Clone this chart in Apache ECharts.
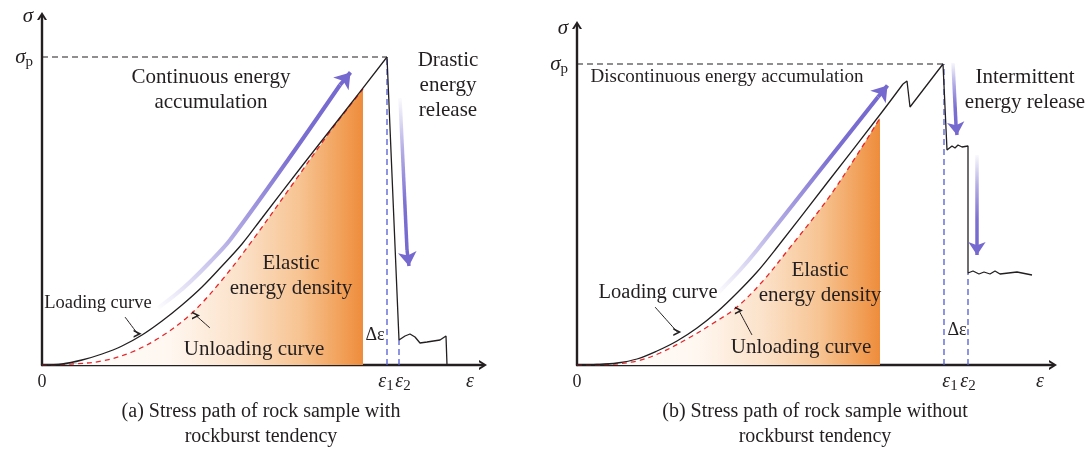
<!DOCTYPE html>
<html>
<head>
<meta charset="utf-8">
<title>Stress path of rock samples</title>
<script src="https://cdn.jsdelivr.net/npm/echarts@6.0.0/dist/echarts.min.js"></script>
<style>
  html, body { margin: 0; padding: 0; background: #fff; }
  #chart { width: 1089px; height: 451px; }
</style>
</head>
<body>
<div id="chart"></div>
<script>
// units: strain / stress measured from the origin of each panel (arbitrary scale)

// ---- (a) with rockburst tendency ----
const loadingA = [[0, 0], [20, 1], [40, 5], [60, 11], [80, 19], [100, 30], [120, 44], [140, 60], [160, 78], [180, 99], [200, 121], [220, 147], [260, 199], [300, 250], [345, 308]]
const unloadingA = [[0, 0], [30, 1], [60, 4], [90, 13], [120, 29], [150, 52], [180, 85], [210, 124], [250, 180], [290, 236], [321, 276]]
const afterPeakA = [[345, 308], [357, 25], [363, 29], [368, 31], [373, 28], [378, 22], [385, 23], [398, 25], [404, 29], [405, 0]]
const sigmaPA = 308
const eps1A = 345
const eps2A = 357
const eps2TopA = 25
const arrowUpA = [[116, 57], [133, 70], [148, 83], [168, 103], [188, 125], [248, 208], [298, 280]]
const arrowUpHeadA = [308.5, 292.6]
const arrowDownA = [[358, 267], [365, 115]]
const arrowDownHeadA = [367, 99]
const pointerLoadA = [[83, 48], [95.6, 31.2]]
const pointerUnloadA = [[168, 37], [154, 49.4]]
const xLabelPosA = [0, 344, 361, 428]
const yLabelPosA = [308, 349]
const notesA = ['Continuous energy\naccumulation', 'Drastic\nenergy\nrelease', 'Elastic\nenergy density', 'Loading curve', 'Unloading curve', 'Δε']
const notesAtA = [[169, 275], [406, 280], [249, 89], [56, 62], [212, 16], [333, 30]]

// ---- (b) without rockburst tendency ----
const loadingB = [[0, 0], [20, 0.5], [40, 2], [60, 6], [80, 14], [100, 24], [120, 37], [140, 53], [160, 72], [180, 93], [198, 115], [250, 182], [305, 253], [326, 281]]
const unloadingB = [[0, 0], [30, 0.5], [60, 4], [83, 12], [110, 26], [135, 41], [160, 58], [185, 83], [211, 115], [250, 165], [280, 210], [303, 247]]
const afterPeakB = [[326, 281], [330, 284], [333, 258], [366, 301], [370, 215], [375, 219], [378, 217], [381, 220], [385, 218], [391, 219], [391, 92], [396, 94], [402, 91], [407, 93], [413, 91], [418, 94], [423, 91], [440, 93], [455, 90]]
const sigmaPB = 301
const eps1B = 367
const eps2B = 391
const eps2TopB = 92
const arrowUpB = [[141, 72], [163, 95], [180, 115], [240, 191], [301, 268]]
const arrowUpHeadB = [310.5, 279.6]
const arrowDown1B = [[376, 302], [379, 240]]
const arrowDown1HeadB = [380, 230]
const arrowDown2B = [[400, 210], [400, 120]]
const arrowDown2HeadB = [400, 110]
const pointerLoadB = [[78, 58], [100.3, 33]]
const pointerUnloadB = [[175, 30], [161.9, 54.5]]
const xLabelPosB = [0, 373, 391, 463]
const yLabelPosB = [301, 337]
const notesB = ['Discontinuous energy accumulation', 'Intermittent\nenergy release', 'Elastic\nenergy density', 'Loading curve', 'Unloading curve', 'Δε']
const notesAtB = [[150, 288], [448, 275], [243, 82], [81, 72], [224, 18], [380, 35]]

const xLabelTxt = ['{n|0}', '{e|ε}{s|1}', '{e|ε}{s|2}', '{e|ε}']
const yLabelTxt = ['{g|σ}{s|p}', '{g|σ}']
const captions = ['(a) Stress path of rock sample with\nrockburst tendency', '(b) Stress path of rock sample without\nrockburst tendency']

const FONT = '"Liberation Serif", "DejaVu Serif", serif'
const INK = '#231F20'
const PURPLE = '#7568CF'
const BLUE = '#4F5BD5'
const RED = '#E8262A'
const CHEVRON = 'path://M0,8 L5,0 L10,8 L7.8,8 L5,3.4 L2.2,8 Z'

const RICH = {
  n: { fontFamily: FONT, fontSize: 18, lineHeight: 24, color: INK },
  e: { fontFamily: FONT, fontSize: 20, fontStyle: 'italic', lineHeight: 24, color: INK },
  g: { fontFamily: FONT, fontSize: 21, fontStyle: 'italic', lineHeight: 26, color: INK },
  s: { fontFamily: FONT, fontSize: 15, lineHeight: 16, verticalAlign: 'bottom', color: INK }
}

const orangeFill = {
  type: 'linear', x: 0, y: 0, x2: 1, y2: 0,
  colorStops: [
    { offset: 0, color: '#FFFFFF' },
    { offset: 0.4, color: '#FFF7F0' },
    { offset: 0.62, color: '#FBE1C8' },
    { offset: 0.8, color: '#F7C493' },
    { offset: 0.92, color: '#F2A45F' },
    { offset: 1, color: '#EE8C3B' }
  ]
}

// purple shaft fading in from its start
const fade = (x, y, x2, y2) => ({
  type: 'linear', x, y, x2, y2,
  colorStops: [
    { offset: 0, color: 'rgba(117,104,207,0)' },
    { offset: 0.35, color: 'rgba(117,104,207,0.55)' },
    { offset: 0.7, color: 'rgba(117,104,207,0.95)' },
    { offset: 1, color: PURPLE }
  ]
})

const line = (i, data, color, width, type, smooth) => ({
  type: 'line', xAxisIndex: i, yAxisIndex: i, data, symbol: 'none',
  smooth: smooth || false, silent: true,
  lineStyle: { color, width, type }
})

// shaft as a line series, head as a markLine segment ending in a symbol
const arrow = (i, shaft, head, color, width, symbol, size, shaftColor) => ({
  type: 'line', xAxisIndex: i, yAxisIndex: i, data: shaft, symbol: 'none',
  smooth: 0.3, silent: true, z: 4,
  lineStyle: { color: shaftColor || color, width },
  markLine: {
    silent: true, animation: false,
    symbol: ['none', symbol], symbolSize: size,
    label: { show: false },
    lineStyle: { type: 'solid', color, width },
    emphasis: { disabled: true },
    data: [[{ coord: shaft[shaft.length - 1] }, { coord: head }]]
  }
})

const notes = (i, texts, at, sizes) => ({
  type: 'scatter', xAxisIndex: i, yAxisIndex: i, symbolSize: 0, silent: true, z: 10,
  itemStyle: { opacity: 1 },
  label: { show: true, position: 'inside', color: INK, opacity: 1, fontFamily: FONT, lineHeight: 25 },
  data: texts.map((t, k) => ({ name: t, value: at[k], label: { formatter: t, fontSize: sizes[k] } }))
})

const xAxis = (i, max, pos) => ({
  gridIndex: i, type: 'value', min: 0, max,
  axisLine: { lineStyle: { color: INK, width: 2.4 }, symbol: ['none', CHEVRON], symbolSize: [10, 8] },
  axisTick: { show: false }, splitLine: { show: false },
  axisLabel: { customValues: pos, margin: 5, rich: RICH, formatter: v => xLabelTxt[pos.indexOf(v)] }
})

const yAxis = (i, max, pos) => ({
  gridIndex: i, type: 'value', min: 0, max,
  axisLine: { lineStyle: { color: INK, width: 2.4 }, symbol: ['none', CHEVRON], symbolSize: [10, 8] },
  axisTick: { show: false }, splitLine: { show: false },
  axisLabel: { customValues: pos, margin: 9, rich: RICH, formatter: v => yLabelTxt[pos.indexOf(v)] }
})

const chart = echarts.init(document.getElementById('chart'), null, { renderer: 'canvas' })

chart.setOption({
  animation: false,
  backgroundColor: '#fff',
  title: captions.map((t, k) => ({
    text: t, left: k === 0 ? 261 : 815, top: 399, textAlign: 'center', padding: 0,
    textStyle: { fontFamily: FONT, fontSize: 20, fontWeight: 'normal', color: INK, lineHeight: 25 }
  })),
  grid: [
    { left: 42, top: 16, width: 441, height: 349, outerBoundsMode: 'none' },
    { left: 577, top: 25, width: 476, height: 340, outerBoundsMode: 'none' }
  ],
  xAxis: [xAxis(0, 441, xLabelPosA), xAxis(1, 476, xLabelPosB)],
  yAxis: [yAxis(0, 349, yLabelPosA), yAxis(1, 340, yLabelPosB)],
  series: [
    // (a)
    Object.assign(line(0, unloadingA, RED, 1.3, [5, 4], 0.35), { areaStyle: { color: orangeFill, opacity: 1 }, z: 2 }),
    line(0, [[0, sigmaPA], [eps1A, sigmaPA]], INK, 1.2, [6, 4]),
    line(0, [[eps1A, 0], [eps1A, sigmaPA]], BLUE, 1.3, [6, 4]),
    line(0, [[eps2A, 0], [eps2A, eps2TopA]], BLUE, 1.3, [6, 4]),
    Object.assign(line(0, loadingA, INK, 1.3, 'solid', 0.35), { z: 3 }),
    Object.assign(line(0, afterPeakA, INK, 1.3, 'solid'), { z: 3 }),
    arrow(0, arrowUpA, arrowUpHeadA, PURPLE, 4, 'arrow', 15, fade(0, 1, 1, 0)),
    arrow(0, arrowDownA, arrowDownHeadA, PURPLE, 3.5, 'arrow', 14, fade(0, 0, 0, 1)),
    arrow(0, pointerLoadA, pointerLoadA[1], INK, 1, CHEVRON, 8),
    arrow(0, pointerUnloadA, pointerUnloadA[1], INK, 1, CHEVRON, 8),
    notes(0, notesA, notesAtA, [21, 21, 21, 18.5, 21, 18]),
    // (b)
    Object.assign(line(1, unloadingB, RED, 1.3, [5, 4], 0.35), { areaStyle: { color: orangeFill, opacity: 1 }, z: 2 }),
    line(1, [[0, sigmaPB], [366, sigmaPB]], INK, 1.2, [6, 4]),
    line(1, [[eps1B, 0], [eps1B, sigmaPB]], BLUE, 1.3, [6, 4]),
    line(1, [[eps2B, 0], [eps2B, eps2TopB]], BLUE, 1.3, [6, 4]),
    Object.assign(line(1, loadingB, INK, 1.3, 'solid', 0.35), { z: 3 }),
    Object.assign(line(1, afterPeakB, INK, 1.3, 'solid'), { z: 3 }),
    arrow(1, arrowUpB, arrowUpHeadB, PURPLE, 4, 'arrow', 15, fade(0, 1, 1, 0)),
    arrow(1, arrowDown1B, arrowDown1HeadB, PURPLE, 3.5, 'arrow', 13, fade(0, 0, 0, 1)),
    arrow(1, arrowDown2B, arrowDown2HeadB, PURPLE, 3.5, 'arrow', 13, fade(0, 0, 0, 1)),
    arrow(1, pointerLoadB, pointerLoadB[1], INK, 1, CHEVRON, 8),
    arrow(1, pointerUnloadB, pointerUnloadB[1], INK, 1, CHEVRON, 8),
    notes(1, notesB, notesAtB, [19, 21, 21, 20.5, 21, 18])
  ]
})
</script>
</body>
</html>
